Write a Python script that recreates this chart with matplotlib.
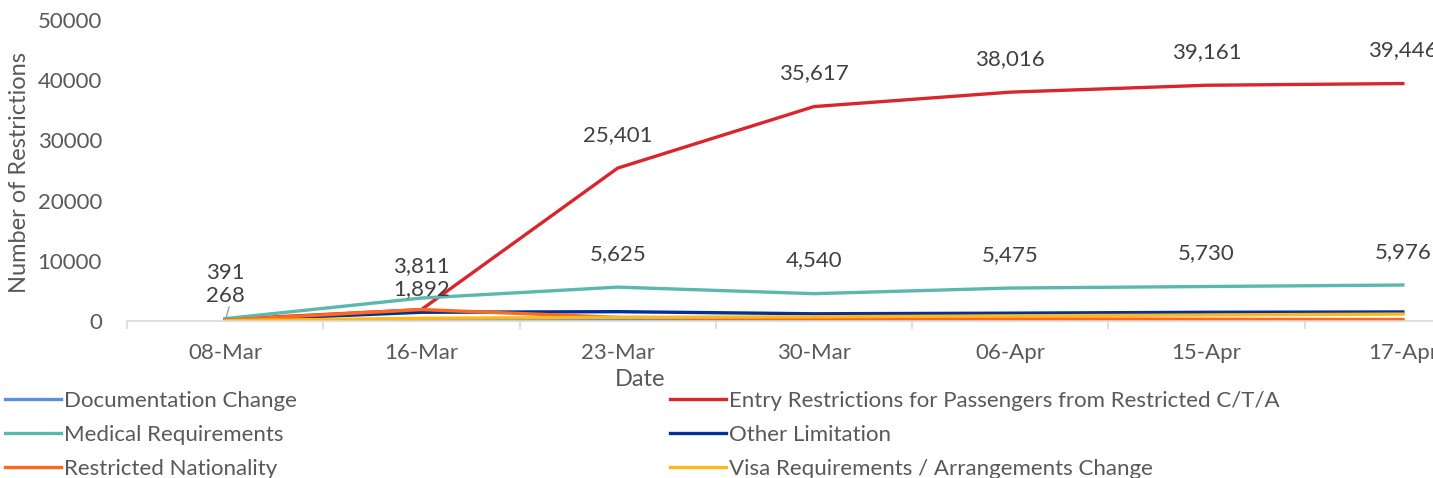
import matplotlib.pyplot as plt

dates = ["08-Mar", "16-Mar", "23-Mar", "30-Mar", "06-Apr", "15-Apr", "17-Apr"]

documentation = [10, 50, 80, 60, 60, 70, 80]
entry = [268, 1892, 25401, 35617, 38016, 39161, 39446]
medical = [391, 3811, 5625, 4540, 5475, 5730, 5976]
other = [100, 1450, 1550, 1200, 1300, 1450, 1500]
nationality = [150, 1900, 600, 400, 350, 300, 250]
visa = [50, 450, 600, 700, 850, 1000, 1150]

plt.rcParams['font.family'] = ['Lato', 'DejaVu Sans']
grey = "#595959"

fig = plt.figure(figsize=(14.33, 4.78), dpi=100)
ax = fig.add_axes([127 / 1433, (478 - 321) / 478, 1374 / 1433, 301 / 478])

x = list(range(len(dates)))
lw = 2.4
ax.plot(x, documentation, color="#5B8FE0", lw=lw, label="Documentation Change")
ax.plot(x, entry, color="#D9262E", lw=lw, label="Entry Restrictions for Passengers from Restricted C/T/A")
ax.plot(x, medical, color="#5BB8AE", lw=lw, label="Medical Requirements")
ax.plot(x, other, color="#00309A", lw=lw, label="Other Limitation")
ax.plot(x, nationality, color="#FF6A1A", lw=lw, label="Restricted Nationality")
ax.plot(x, visa, color="#FFB81C", lw=lw, label="Visa Requirements / Arrangements Change")

# data labels for the two biggest series
lab_col = "#404040"
for i in range(len(dates)):
    if i == 0:
        off_m, off_e = (0, 33), (0, 17)
    elif i == 1:
        off_m, off_e = (0, 23), (0, 15)
    else:
        off_m, off_e = (0, 24), (0, 24)
    ax.annotate(f"{medical[i]:,}", (x[i], medical[i]), xytext=off_m, textcoords="offset points",
                ha="center", va="center", fontsize=16, color=lab_col)
    ax.annotate(f"{entry[i]:,}", (x[i], entry[i]), xytext=off_e, textcoords="offset points",
                ha="center", va="center", fontsize=16, color=lab_col)
# leader line at first point
ax.plot([x[0], x[0] + 0.02], [0, 2300], color="#A0A0A0", lw=1)

ax.set_xlim(-0.5, len(dates) - 0.5)
ax.set_ylim(0, 50000)
ax.set_yticks(range(0, 50001, 10000))
ax.set_xticks(x)
ax.set_xticklabels(dates)
ax.set_xticks([i - 0.5 for i in range(len(dates) + 1)], minor=True)
ax.tick_params(axis="x", which="major", length=0, pad=16, labelsize=16, labelcolor=grey)
ax.tick_params(axis="x", which="minor", length=6, color="#D9D9D9", width=1.2)
ax.tick_params(axis="y", length=0, pad=18, labelsize=16, labelcolor=grey)
for s in ["top", "right", "left"]:
    ax.spines[s].set_visible(False)
ax.spines["bottom"].set_color("#D9D9D9")
ax.spines["bottom"].set_linewidth(1.2)

fig.text(20 / 1433, 1 - 173 / 478, "Number of Restrictions", rotation=90, ha="center", va="center",
         fontsize=17, color=grey)
fig.text(640 / 1433, 1 - 380 / 478, "Date", ha="center", va="center", fontsize=17, color=grey)

h, l = ax.get_legend_handles_labels()
order = [0, 2, 4, 1, 3, 5]
fig.legend([h[i] for i in order], [l[i] for i in order], ncol=2, loc="upper left",
           bbox_to_anchor=(5 / 1433, 1 - 391 / 478), frameon=False, fontsize=16,
           handlelength=2.5, handletextpad=0.15, columnspacing=16.8, labelspacing=0.62,
           borderaxespad=0, borderpad=0, labelcolor=grey)

fig.savefig("out.png", dpi=100)
